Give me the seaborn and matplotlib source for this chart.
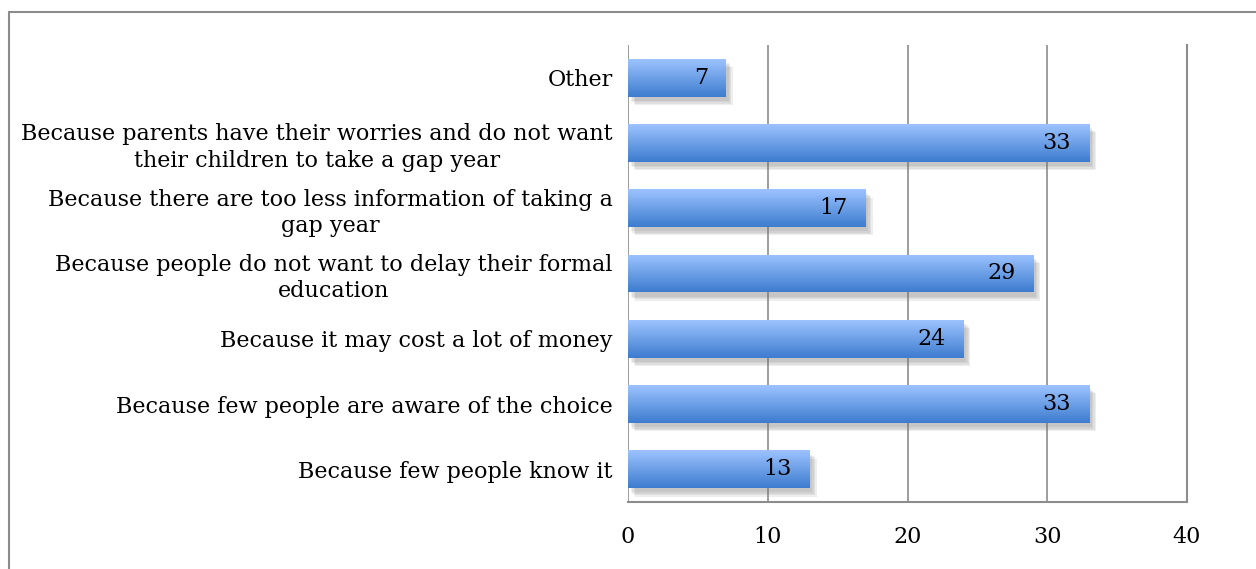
import matplotlib
matplotlib.use("Agg")
from matplotlib import pyplot as plt
import matplotlib.patheffects as pe
from matplotlib.colors import LinearSegmentedColormap
from matplotlib.lines import Line2D
import seaborn as sns
import numpy as np
import pandas as pd

labels = ['Other',
          'Because parents have their worries and do not want\ntheir children to take a gap year',
          'Because there are too less information of taking a\ngap year',
          'Because people do not want to delay their formal\neducation',
          'Because it may cost a lot of money',
          'Because few people are aware of the choice',
          'Because few people know it']
values = [7, 33, 17, 29, 24, 33, 13]
xticks = [0, 10, 20, 30, 40]

df = pd.DataFrame({'reason': labels, 'count': values})

sns.set_style('white')
plt.rcParams['font.family'] = ['DejaVu Serif']
plt.rcParams['text.color'] = 'black'
plt.rcParams['xtick.color'] = 'black'
plt.rcParams['ytick.color'] = 'black'

fig = plt.figure(figsize=(12.56, 5.69), dpi=100)
ax = fig.add_axes([0.5, 0.1178, 0.4451, 0.8031])

sns.barplot(data=df, x='count', y='reason', orient='h', color='#6a9ee8',
            width=0.58, ax=ax, saturation=1)

# gradient fill + soft shadow like the original office chart
cmap = LinearSegmentedColormap.from_list('bar', ['#9dc3ff', '#3d7ccf'])
grad = np.linspace(0, 1, 64).reshape(-1, 1)
shadow = [pe.SimplePatchShadow(offset=(d, -d - 1), shadow_rgbFace='#777777', alpha=0.12)
          for d in (5, 4, 3, 2)]
for p in ax.patches:
    x0, y0 = p.get_x(), p.get_y()
    w, h = p.get_width(), p.get_height()
    p.set_path_effects(shadow + [pe.Normal()])
    p.set_edgecolor('none')
    im = ax.imshow(grad, cmap=cmap, aspect='auto', extent=[x0, x0 + w, y0 + h, y0],
                   origin='upper', zorder=p.get_zorder() + 0.1)
    im.set_clip_path(p)

texts = ax.bar_label(ax.containers[0], padding=-13, fontsize=16, color='black')
for t in texts:
    t.set_ha('right')
    t.set_zorder(5)

ax.set_xlim(0, 40)
ax.set_ylim(6.5, -0.5)
ax.set_xticks(xticks)
ax.xaxis.grid(True, color='#8c8c8c', linewidth=1.2)
ax.set_axisbelow(True)
ax.set_xlabel('')
ax.set_ylabel('')
for side in ['top', 'left']:
    ax.spines[side].set_visible(False)
for side in ['right', 'bottom']:
    ax.spines[side].set_color('#8c8c8c')
    ax.spines[side].set_linewidth(1.5)
ax.tick_params(axis='x', labelsize=16, length=0, pad=17)
ax.tick_params(axis='y', labelsize=16, length=0, pad=11)
for t in ax.get_yticklabels():
    t.set_multialignment('center')
    t.set_linespacing(1.25)

# outer chart frame (only left and top edges are visible in the crop)
fig.add_artist(Line2D([9 / 1256, 9 / 1256], [0, 1 - 12 / 569], color='#8c8c8c', linewidth=1.5))
fig.add_artist(Line2D([9 / 1256, 1], [1 - 12 / 569, 1 - 12 / 569], color='#8c8c8c', linewidth=1.5))

fig.savefig('out.png', dpi=100)
